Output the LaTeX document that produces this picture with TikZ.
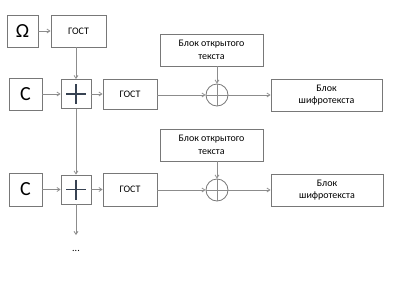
\documentclass[tikz,border=0pt]{standalone}
\usepackage{fontspec}
\setmainfont{Carlito}
\usetikzlibrary{arrows.meta}
\definecolor{boxc}{RGB}{120,120,120}
\definecolor{linec}{RGB}{140,140,140}
\definecolor{plusc}{RGB}{55,66,82}
\begin{document}
\begin{tikzpicture}[x=1pt,y=-1pt,
  box/.style={draw=boxc,line width=0.8pt,rectangle,inner sep=0pt,align=center,font=\fontsize{10}{12.5}\selectfont},
  bigbox/.style={box,font=\fontsize{20}{21}\selectfont},
  conn/.style={draw=linec,line width=0.8pt,-{Straight Barb[length=3pt,width=4pt]}},
  plain/.style={draw=linec,line width=0.8pt},
  pl/.style={draw=plusc,line width=1.4pt},
  xor/.style={draw=boxc,line width=0.8pt,circle,minimum size=22pt,inner sep=0pt}]
\useasboundingbox (0,0) rectangle (400,293);
\node[bigbox,minimum width=31pt,minimum height=32pt] (om) at (22.5,31) {Ω};
\node[box,minimum width=55pt,minimum height=32pt] (g0) at (78.5,31) {ГОСТ};
\node[bigbox,minimum width=33pt,minimum height=32pt] (c1) at (25.5,94) {C};
\node[box,minimum width=30pt,minimum height=29pt] (p1) at (76,94) {};
\node[box,minimum width=54pt,minimum height=30pt] (g1) at (130,94) {ГОСТ};
\node[box,minimum width=103pt,minimum height=32pt] (o1) at (211.5,50) {Блок открытого\\текста};
\node[xor] (x1) at (217,95) {};
\node[box,minimum width=111pt,minimum height=32pt] (k1) at (326.5,95) {Блок\\шифротекста};
\node[bigbox,minimum width=33pt,minimum height=33pt] (c2) at (25.5,189.5) {C};
\node[box,minimum width=30pt,minimum height=29pt] (p2) at (76,189.5) {};
\node[box,minimum width=54pt,minimum height=33pt] (g2) at (130,189.5) {ГОСТ};
\node[box,minimum width=103pt,minimum height=32pt] (o2) at (211.5,145) {Блок открытого\\текста};
\node[xor] (x2) at (217,190) {};
\node[box,minimum width=112pt,minimum height=32pt] (k2) at (327,190) {Блок\\шифротекста};
\node[font=\fontsize{10}{10}\selectfont] (dots) at (76,251) {...};
\coordinate (end) at (76,235);
% plus signs
\foreach \p in {p1,p2}{
  \draw[pl] (\p.center) +(-10,0) -- +(10,0);
  \draw[pl] (\p.center) +(0,-10) -- +(0,10);
}
\foreach \x in {x1,x2}{
  \draw[plain] (\x.north) -- (\x.south);
  \draw[plain] (\x.west) -- (\x.east);
}
% connectors
\draw[conn] (om) -- (g0);
\draw[conn] (g0.south -| p1.north) -- (p1.north);
\draw[conn] (c1) -- (p1);
\draw[conn] (p1) -- (g1);
\draw[conn] (g1.east |- x1.west) -- (x1.west);
\draw[conn] (x1.east) -- (k1.west);
\draw[conn] (o1.south -| x1.north) -- (x1.north);
\draw[conn] (p1.south) -- (p2.north);
\draw[conn] (c2) -- (p2);
\draw[conn] (p2) -- (g2);
\draw[conn] (g2.east |- x2.west) -- (x2.west);
\draw[conn] (x2.east) -- (k2.west);
\draw[conn] (o2.south -| x2.north) -- (x2.north);
\draw[conn] (p2.south) -- (end);
\end{tikzpicture}
\end{document}
